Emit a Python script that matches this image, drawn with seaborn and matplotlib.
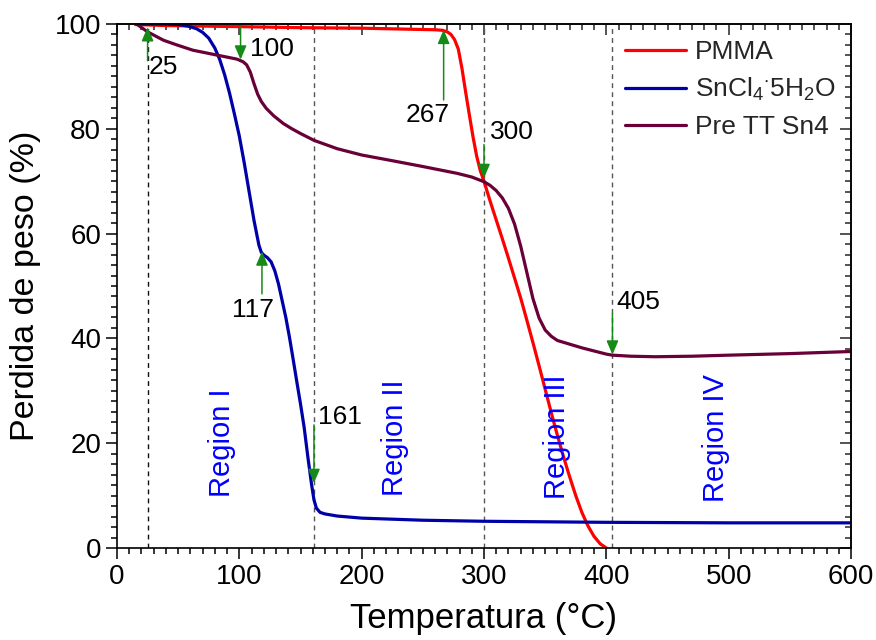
import numpy as np
import pandas as pd
import matplotlib
matplotlib.use("Agg")
import matplotlib.pyplot as plt
from matplotlib.ticker import MultipleLocator
import seaborn as sns

# --- Thermogravimetric curves: temperature (°C) vs weight (%) ---
pmma_t = [15, 40, 100, 150, 200, 240, 260, 266, 270, 273, 276, 279, 282, 285, 288,
          291, 294, 297, 300, 305, 310, 315, 320, 325, 330, 335, 340, 345, 350, 355,
          360, 365, 370, 375, 380, 385, 390, 395, 400]
pmma_w = [99.9, 99.7, 99.5, 99.3, 99.2, 99.0, 98.9, 98.8, 98.5, 98.0, 97.0, 95.2, 91.5,
          87.0, 82.7, 78.5, 74.8, 72.0, 70.0, 66.2, 62.6, 59.0, 55.3, 51.5, 47.7, 43.5,
          39.2, 34.8, 30.3, 25.8, 21.5, 17.4, 13.6, 10.0, 6.8, 4.2, 2.2, 0.8, 0.0]

sncl_t = [16, 40, 50, 58, 65, 70, 75, 80, 84, 88, 92, 96, 100, 104, 108, 112, 116, 118,
          120, 123, 126, 129, 132, 135, 138, 141, 144, 147, 150, 153, 156, 159, 161, 163,
          166, 170, 180, 200, 250, 300, 400, 500, 600]
sncl_w = [100, 100, 99.9, 99.6, 99.1, 98.4, 97.3, 95.4, 93.2, 90.3, 86.8, 82.8, 78.6,
          73.5, 68.0, 62.5, 57.8, 56.4, 55.9, 55.4, 54.6, 52.9, 50.4, 47.2, 44.0, 40.2,
          36.0, 31.7, 27.5, 23.0, 17.4, 12.2, 9.2, 7.6, 6.8, 6.5, 6.1, 5.7, 5.3, 5.1,
          4.9, 4.8, 4.8]

pre_t = [16, 25, 38, 49, 62, 81, 98, 103, 106, 109, 112, 115, 118, 122, 128, 136, 143,
         150, 161, 180, 200, 223, 250, 278, 290, 300, 305, 310, 315, 320, 325, 330, 335,
         340, 345, 350, 355, 360, 370, 380, 390, 400, 405, 420, 440, 470, 500, 550, 600]
pre_w = [100, 98.5, 96.9, 96.0, 95.0, 94.1, 93.3, 92.8, 92.2, 90.8, 88.6, 86.6, 85.2,
         83.9, 82.5, 81.0, 80.0, 79.1, 77.8, 76.2, 75.0, 74.0, 72.8, 71.5, 70.8, 69.9,
         69.2, 68.2, 66.8, 64.8, 61.8, 57.6, 52.6, 47.6, 43.9, 41.6, 40.4, 39.6, 38.9,
         38.2, 37.6, 37.0, 36.8, 36.6, 36.5, 36.6, 36.8, 37.1, 37.5]

series_names = ["PMMA", "SnCl$_4$$^{\\cdot}$5H$_2$O", "Pre TT Sn4"]
series_colors = ["#FF0000", "#0000A8", "#6A0038"]

# Boundaries between decomposition regions
boundary_t = [25, 161, 300, 405]
boundary_colors = ["#111111", "#555555", "#555555", "#555555"]
region_labels = ["Region I", "Region II", "Region III", "Region IV"]
region_t = [86, 227, 360, 490]
region_w = [20.0, 21.0, 21.2, 21.0]

# Characteristic temperatures marked with arrows
mark_labels = ["25", "100", "117", "161", "267", "300", "405"]
mark_t = [25, 101, 118.5, 161, 267, 300, 405]
mark_tail_w = [93.0, 99.4, 48.5, 23.5, 85.5, 77.0, 44.8]
mark_tip_w = [99.4, 93.2, 56.6, 12.4, 98.9, 70.6, 36.9]
mark_text_t = [26, 108.5, 111, 164, 254, 305, 408.5]
mark_text_w = [91.8, 95.2, 45.4, 25.0, 82.6, 79.4, 47.0]
mark_ha = ["left", "left", "center", "left", "center", "left", "left"]

frames = []
for name, t, w in [(series_names[0], pmma_t, pmma_w),
                   (series_names[1], sncl_t, sncl_w),
                   (series_names[2], pre_t, pre_w)]:
    frames.append(pd.DataFrame({"Temperatura": t, "Peso": w, "Muestra": name}))
data = pd.concat(frames, ignore_index=True)

sns.set_theme(style="ticks")
plt.rcParams["font.family"] = ["Liberation Sans", "DejaVu Sans"]
plt.rcParams["mathtext.fontset"] = "custom"
plt.rcParams["mathtext.rm"] = "Liberation Sans"
plt.rcParams["mathtext.it"] = "Liberation Sans:italic"
plt.rcParams["mathtext.default"] = "regular"

fig = plt.figure(figsize=(8.76, 6.4), dpi=100)
ax = fig.add_axes([117 / 876, 1 - 548 / 640, 734 / 876, 524 / 640])

sns.lineplot(data=data, x="Temperatura", y="Peso", hue="Muestra",
             hue_order=series_names, palette=series_colors, sort=False,
             estimator=None, linewidth=2.3, ax=ax)

for bt, bc in zip(boundary_t, boundary_colors):
    ax.axvline(bt, color=bc, lw=1.0, ls=(0, (3.5, 3)), zorder=1)

for lab, rt, rw in zip(region_labels, region_t, region_w):
    ax.text(rt, rw, lab, rotation=90, color="#0000FF", fontsize=21,
            ha="center", va="center")

for lab, t, tw, hw, lt, lw_, ha in zip(mark_labels, mark_t, mark_tail_w, mark_tip_w,
                                        mark_text_t, mark_text_w, mark_ha):
    ax.annotate("", xy=(t, hw), xytext=(t, tw),
                arrowprops=dict(arrowstyle="-|>,head_length=0.7,head_width=0.3",
                                color="#168a16", lw=1.1, shrinkA=0, shrinkB=0),
                zorder=5)
    ax.text(lt, lw_, lab, fontsize=19, ha=ha, va="center", color="black")

ax.set_xlim(0, 600)
ax.set_ylim(0, 100)
ax.xaxis.set_major_locator(MultipleLocator(100))
ax.xaxis.set_minor_locator(MultipleLocator(10))
ax.yaxis.set_major_locator(MultipleLocator(20))
ax.yaxis.set_minor_locator(MultipleLocator(2))
ax.tick_params(which="both", direction="out", colors="black", labelsize=20,
               width=1.1, top=False, right=False)
ax.tick_params(which="major", length=8)
ax.tick_params(which="minor", length=4)

# Mirrored inward ticks on the top and right edges
top = ax.secondary_xaxis("top")
top.xaxis.set_major_locator(MultipleLocator(100))
top.xaxis.set_minor_locator(MultipleLocator(10))
top.tick_params(which="both", direction="in", labeltop=False, width=1.1)
top.tick_params(which="major", length=8)
top.tick_params(which="minor", length=4)
right = ax.secondary_yaxis("right")
right.yaxis.set_major_locator(MultipleLocator(20))
right.yaxis.set_minor_locator(MultipleLocator(2))
right.tick_params(which="both", direction="in", labelright=False, width=1.1)
right.tick_params(which="major", length=8)
right.tick_params(which="minor", length=4)

for sp in ax.spines.values():
    sp.set_color("black")
    sp.set_linewidth(1.2)

ax.set_xlabel("Temperatura (°C)", fontsize=25, labelpad=9, color="black")
ax.set_ylabel("Perdida de peso (%)", fontsize=24.5, labelpad=10, color="black")

handles, labels = ax.get_legend_handles_labels()
ax.legend(handles, labels, frameon=False, fontsize=19, loc="upper left",
          bbox_to_anchor=((625 - 117) / 734, (548 - 40) / 524),
          borderaxespad=0, borderpad=0, handlelength=2.3, handletextpad=0.35,
          labelspacing=0.45)

fig.savefig("out.png", dpi=100)
